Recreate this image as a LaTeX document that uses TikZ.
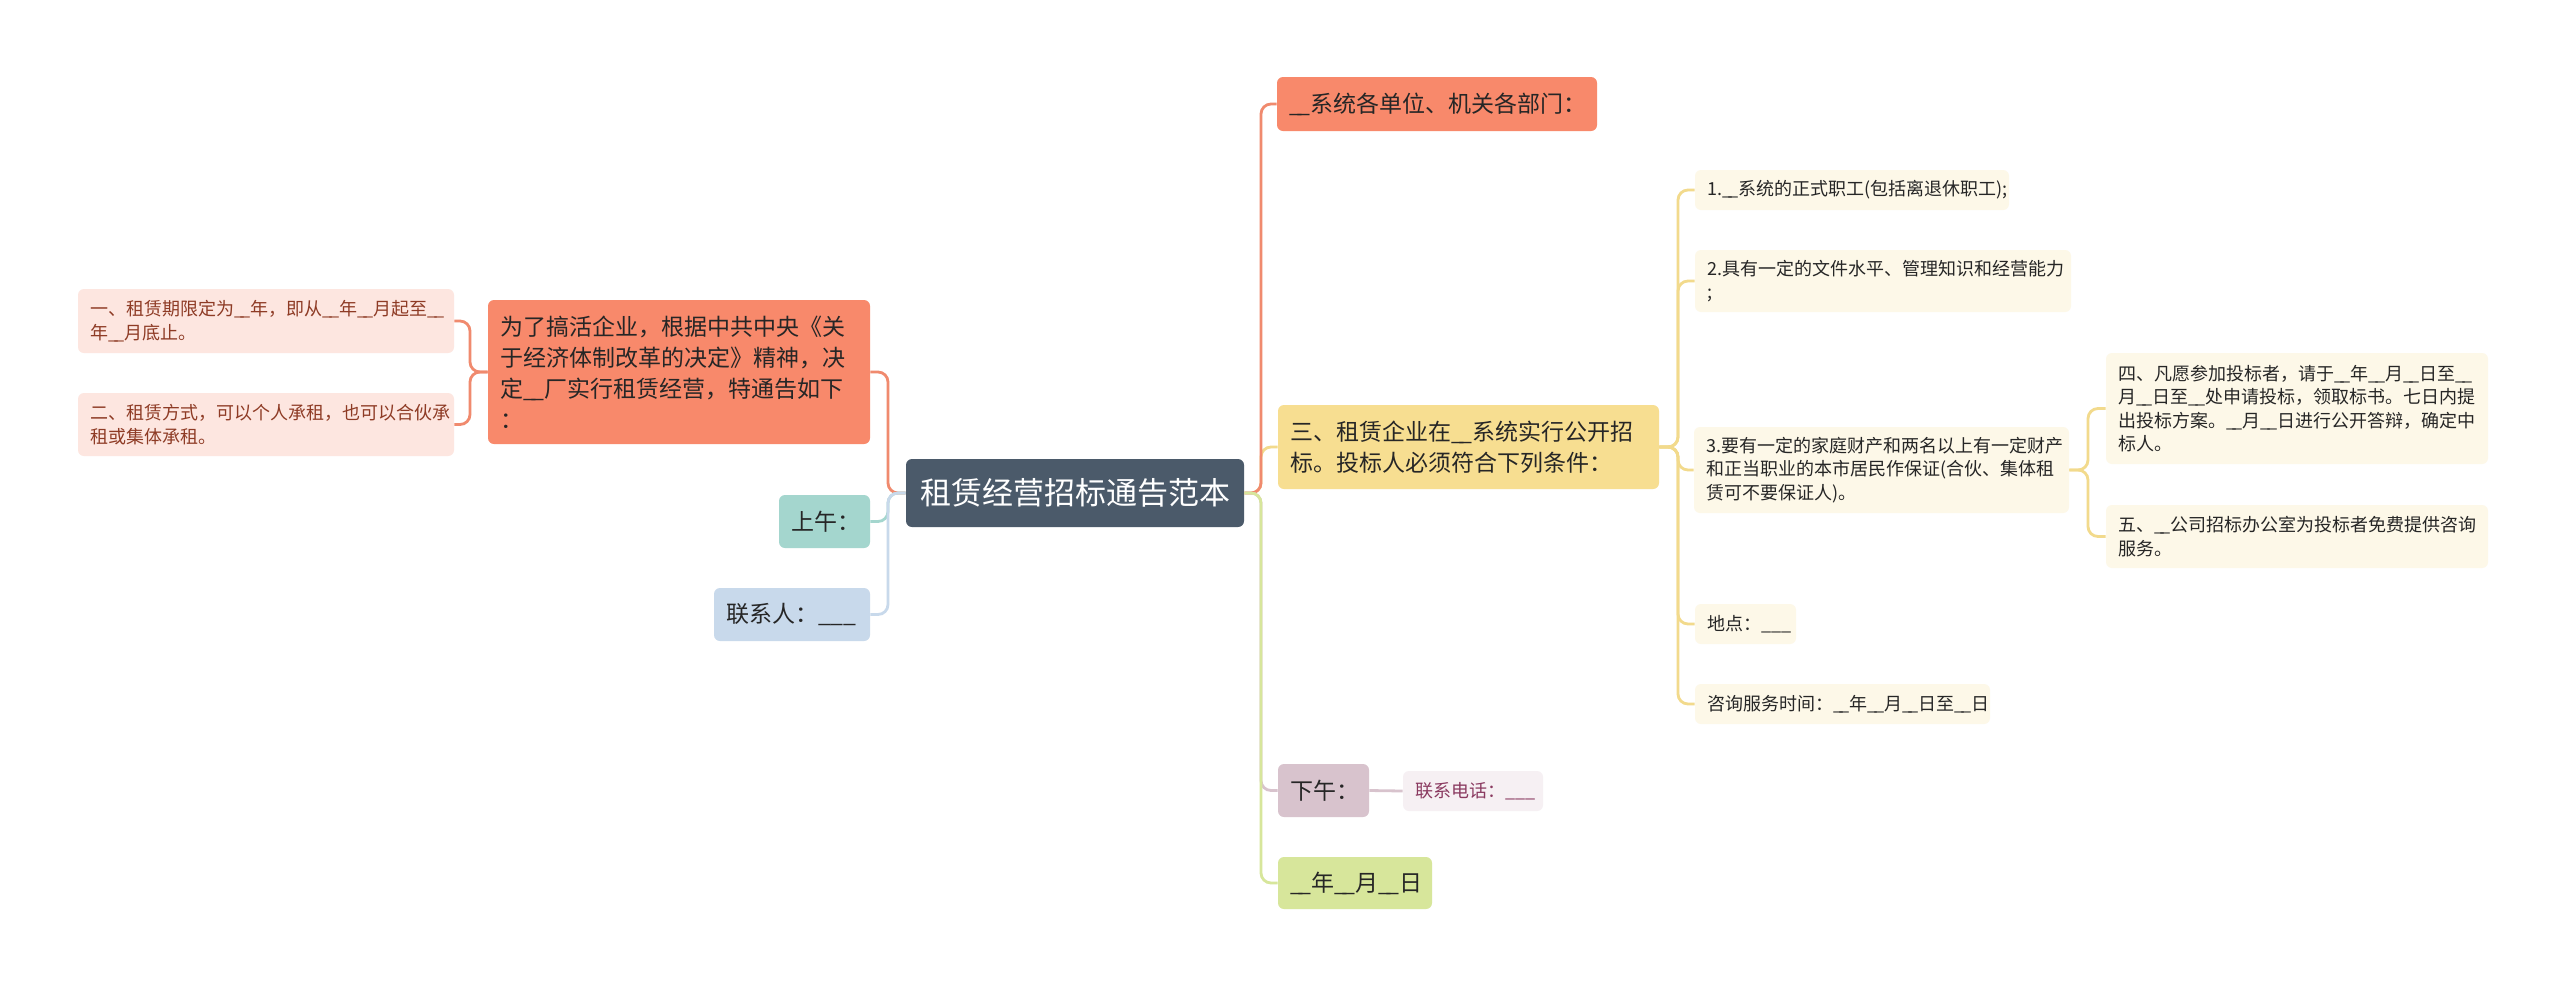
\documentclass[tikz,border=0pt]{standalone}
\usepackage{fontspec}
\setmainfont{Noto Sans CJK SC}
\newcommand\uu{\_\kern-0.2em\_}
\definecolor{cdark}{HTML}{4B5A6A}
\definecolor{salmon}{HTML}{F8896B}
\definecolor{salmonln}{HTML}{F08A6E}
\definecolor{pinkbg}{HTML}{FDE6E0}
\definecolor{leaftx}{HTML}{8E3B25}
\definecolor{yel}{HTML}{F7DE91}
\definecolor{yelln}{HTML}{F2DA8C}
\definecolor{cream}{HTML}{FDF8E8}
\definecolor{tealc}{HTML}{A4D6CE}
\definecolor{lblue}{HTML}{C8D9EB}
\definecolor{mauve}{HTML}{D8C3CD}
\definecolor{mauvebg}{HTML}{F6F0F3}
\definecolor{mauvetx}{HTML}{8A3A60}
\definecolor{lgreen}{HTML}{D7E69B}
\definecolor{txt}{HTML}{262626}
\begin{document}
\begin{tikzpicture}[x=0.5pt,y=-0.5pt,
 box/.style={rounded corners=3pt, inner xsep=6pt, inner ysep=0pt, align=left, text=txt},
 fA/.style={font=\fontsize{15.5pt}{19pt}\selectfont},
 fB/.style={font=\fontsize{11.5pt}{15.5pt}\selectfont},
 fC/.style={font=\fontsize{9pt}{11.75pt}\selectfont},
 conn/.style={line width=1.4pt, rounded corners=5pt}]
\useasboundingbox[fill=white] (0,0) rectangle (2560,987);

% central
\node[box, fA, fill=cdark, text=white, align=center, minimum width=169pt, minimum height=34pt] (c) at (1075,493) {租赁经营招标通告范本};

% left side
\node[box, fB, fill=salmon, text width=179pt, minimum height=72pt] (l1) at (679,372) {为了搞活企业，根据中共中央《关\\于经济体制改革的决定》精神，决\\定\uu 厂实行租赁经营，特通告如下\\：};
\node[box, fC, fill=pinkbg, text=leaftx, text width=176pt, minimum height=32pt] (f1) at (266,321) {一、租赁期限定为\uu 年，即从\uu 年\uu 月起至\uu\\年\uu 月底止。};
\node[box, fC, fill=pinkbg, text=leaftx, text width=176pt, minimum height=31.5pt] (f2) at (266,424.5) {二、租赁方式，可以个人承租，也可以合伙承\\租或集体承租。};
\node[box, fB, fill=tealc, text width=33.5pt, minimum height=26.5pt] (am) at (824.5,521.5) {上午：};
\node[box, fB, fill=lblue, text width=66pt, minimum height=26.5pt] (ct) at (792,614.5) {联系人：\_\_\_};

% right side
\node[box, fB, fill=salmon, text width=148pt, minimum height=27pt] (r1) at (1437,104) {\uu 系统各单位、机关各部门：};
\node[box, fB, fill=yel, text width=178.5pt, minimum height=42pt] (r2) at (1468.5,447) {三、租赁企业在\uu 系统实行公开招\\标。投标人必须符合下列条件：};
\node[box, fB, fill=mauve, text width=33.5pt, minimum height=26.5pt] (pm) at (1323.5,790.5) {下午：};
\node[box, fC, fill=mauvebg, text=mauvetx, text width=58pt, minimum height=20pt] (tel) at (1473,791) {联系电话：\_\_\_};
\node[box, fB, fill=lgreen, text width=65pt, minimum height=26pt] (dt) at (1355,883) {\uu 年\uu 月\uu 日};

% level 3
\node[box, fC, fill=cream, text width=145pt, minimum height=20pt] (b1) at (1852,190) {1.\uu 系统的正式职工(包括离退休职工);};
\node[box, fC, fill=cream, text width=176pt, minimum height=31pt] (b2) at (1883,281) {2.具有一定的文件水平、管理知识和经营能力\\;};
\node[box, fC, fill=cream, text width=175.5pt, minimum height=43pt] (b3) at (1881.5,470) {3.要有一定的家庭财产和两名以上有一定财产\\和正当职业的本市居民作保证(合伙、集体租\\赁可不要保证人)。};
\node[box, fC, fill=cream, text width=38.5pt, minimum height=20pt] (b4) at (1745.5,624) {地点：\_\_\_};
\node[box, fC, fill=cream, text width=135.5pt, minimum height=20pt] (b5) at (1842.5,704) {咨询服务时间：\uu 年\uu 月\uu 日至\uu 日};
\node[box, fC, fill=cream, text width=179pt, minimum height=55.5pt] (g1) at (2297,408.5) {四、凡愿参加投标者，请于\uu 年\uu 月\uu 日至\uu\\月\uu 日至\uu 处申请投标，领取标书。七日内提\\出投标方案。\uu 月\uu 日进行公开答辩，确定中\\标人。};
\node[box, fC, fill=cream, text width=179pt, minimum height=31.5pt] (g2) at (2297,536.5) {五、\uu 公司招标办公室为投标者免费提供咨询\\服务。};

% trunk points
\coordinate (rt) at (1261,493);
\coordinate (lt) at (888,493);
\coordinate (lt2) at (470,372);
\coordinate (t3) at (1678,447);
\coordinate (t4) at (2088,470);

% connectors right
\draw[conn, yelln] (c.east) -- (rt) |- (r2.west);
\draw[conn, salmonln] (c.east) -- (rt) |- (r1.west);
\draw[conn, mauve] (c.east) -- (rt) |- (pm.west);
\draw[conn, lgreen] (c.east) -- (rt) |- (dt.west);
\draw[conn, mauve] (pm.east) -- (tel.west);

% connectors left
\draw[conn, salmonln] (c.west) -- (lt) |- (l1.east);
\draw[conn, tealc] (c.west) -- (lt) |- (am.east);
\draw[conn, lblue] (c.west) -- (lt) |- (ct.east);
\draw[conn, salmonln] (l1.west) -- (lt2) |- (f1.east);
\draw[conn, salmonln] (l1.west) -- (lt2) |- (f2.east);

% level 3 connectors
\foreach \n in {b1,b2,b3,b4,b5} {\draw[conn, yelln] (r2.east) -- (t3) |- (\n.west);}
\foreach \n in {g1,g2} {\draw[conn, yelln] (b3.east) -- (t4) |- (\n.west);}
\end{tikzpicture}
\end{document}
